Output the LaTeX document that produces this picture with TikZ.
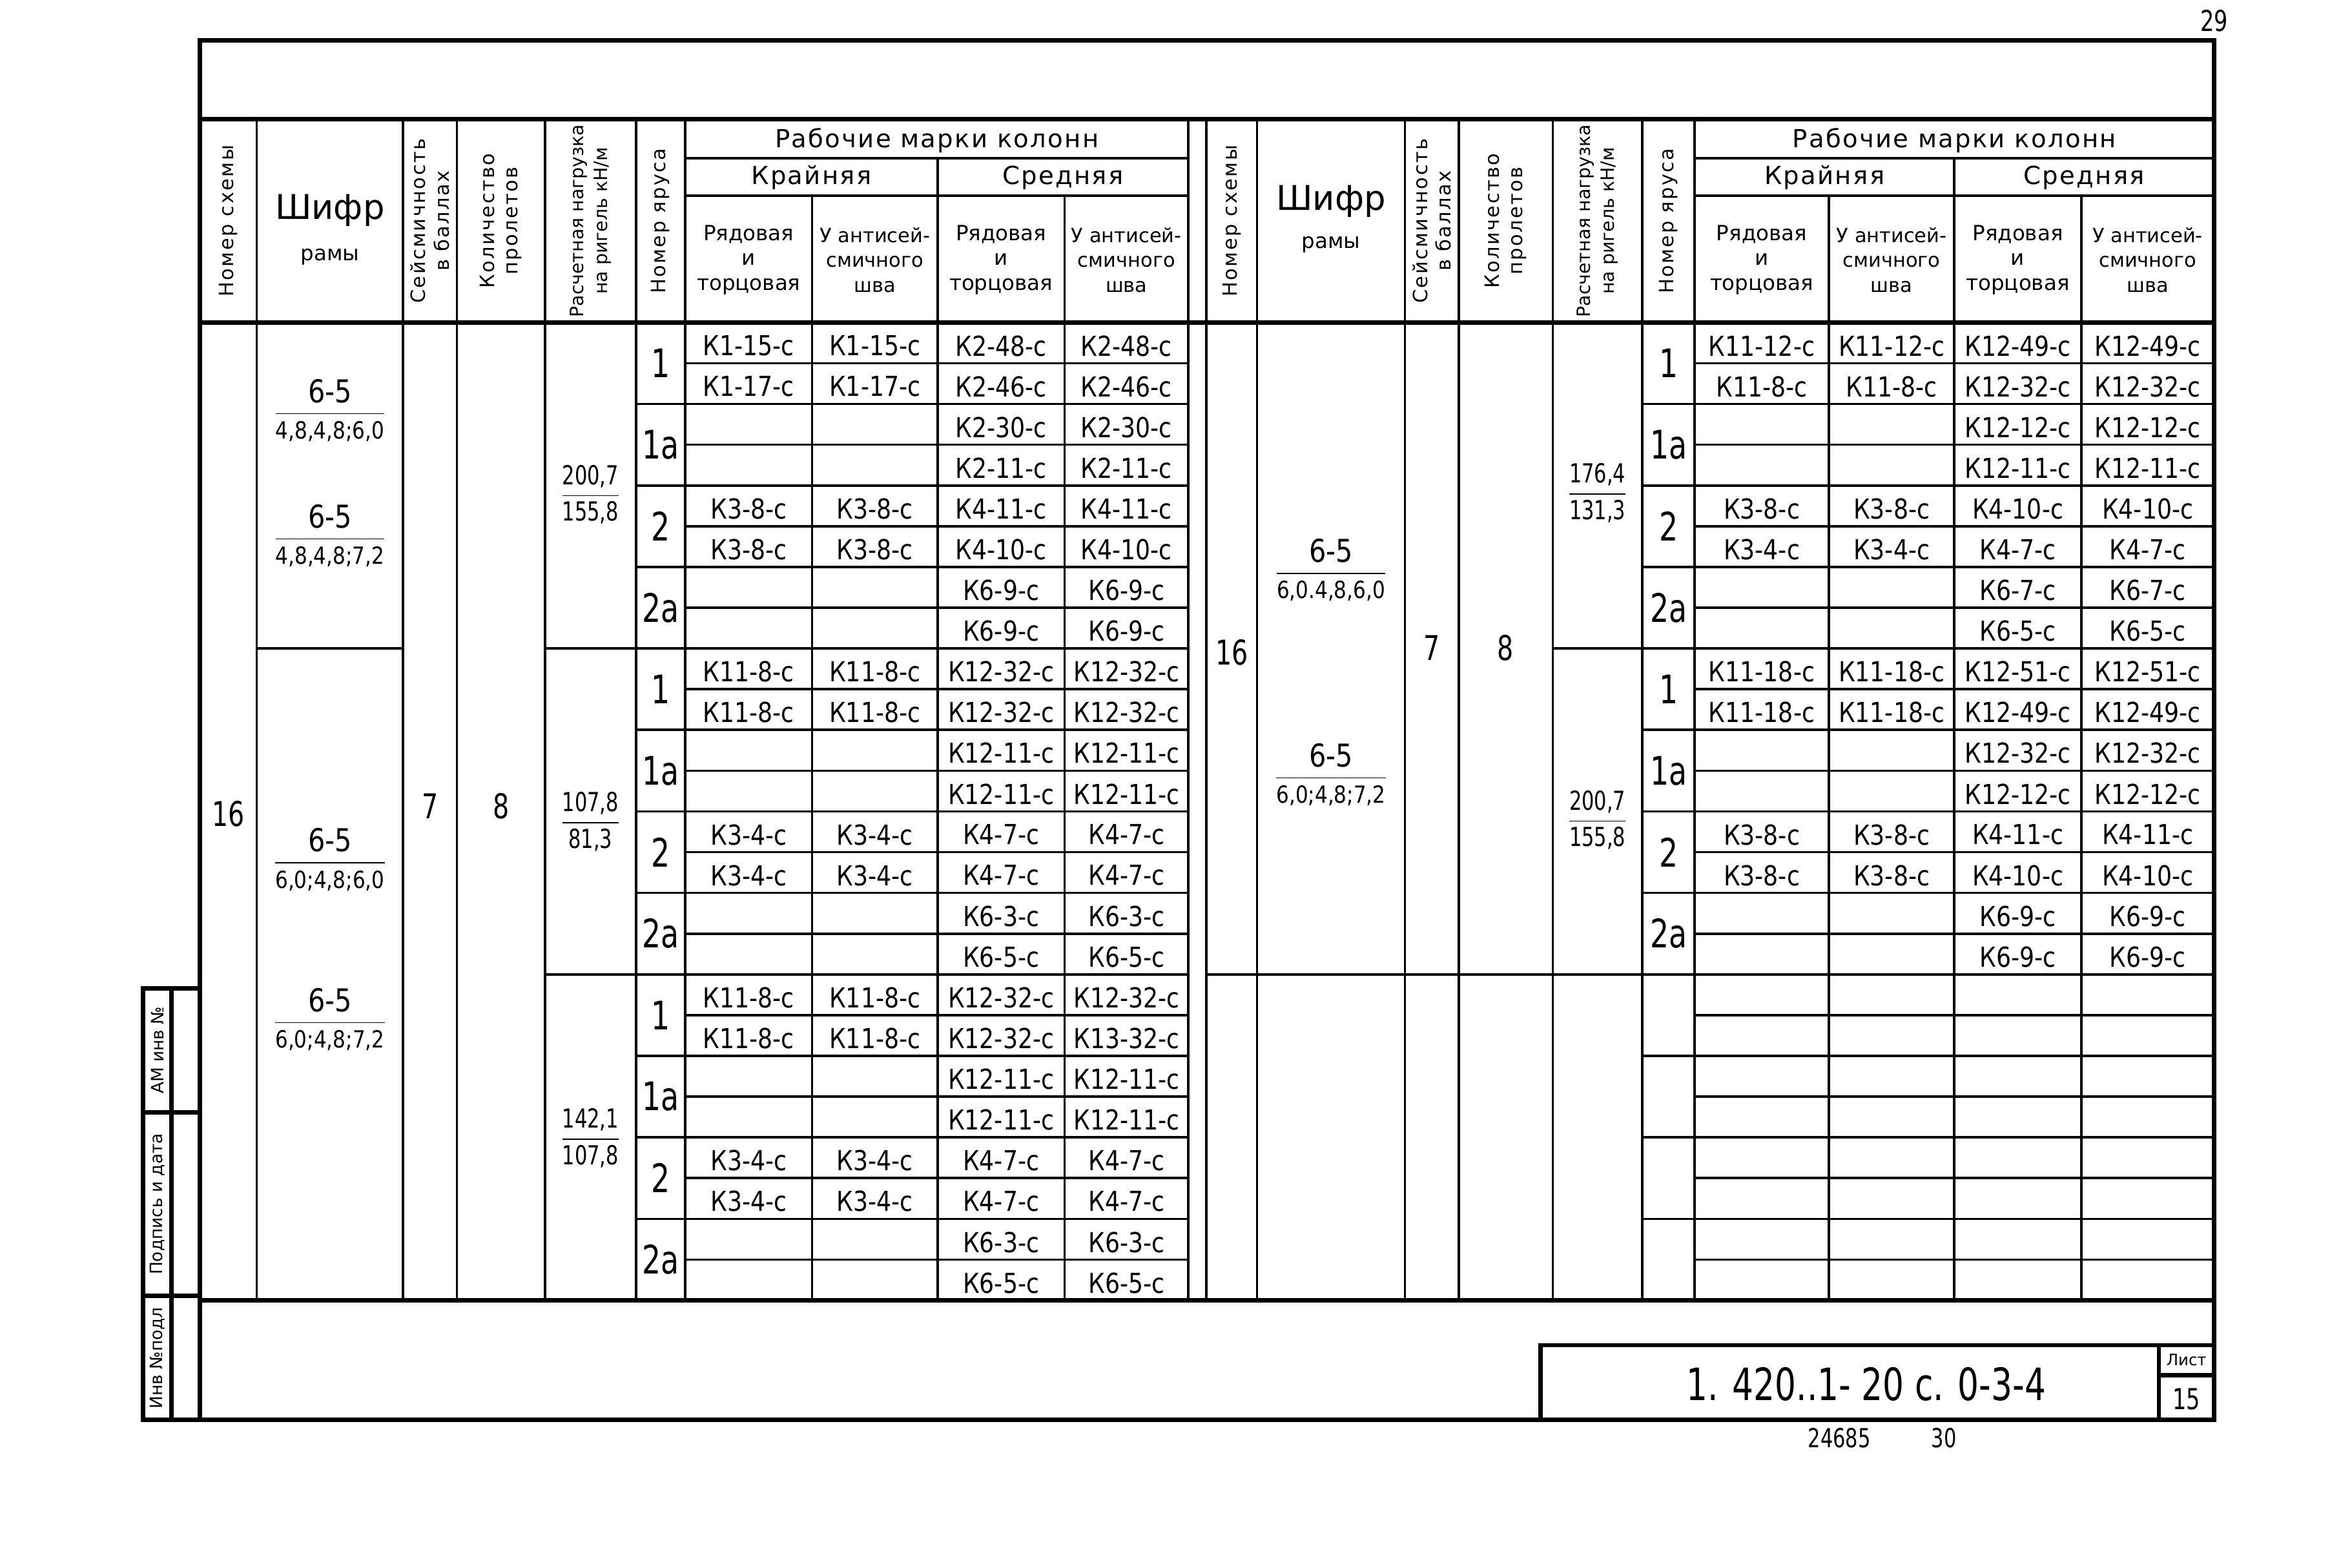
\documentclass[tikz,border=0pt]{standalone}
\usepackage{fontspec}
\setmainfont{DejaVu Sans}
\newfontfamily\uzkij{DejaVu Sans}[FakeStretch=0.75]
\newfontfamily\srednij{DejaVu Sans}[FakeStretch=0.85]
\usetikzlibrary{positioning}

% fraction: numerator over a rule
\newcommand{\drob}[2]{{\renewcommand{\arraystretch}{1.35}\begin{tabular}{@{}c@{}}#1\\\hline #2\end{tabular}}}

\tikzset{
  frame/.style={line width=1.7pt},
  grid/.style={line width=0.9pt},
  cell/.style={font=\srednij\fontsize{10.5}{11}\selectfont, inner sep=0pt},
  yarus/.style={font=\uzkij\fontsize{15}{15}\selectfont, inner sep=0pt},
  big/.style={font=\uzkij\fontsize{13}{13}\selectfont, inner sep=0pt},
  head/.style={font=\fontsize{8}{9.5}\selectfont, align=center, inner sep=0pt},
  vhead/.style={font=\fontsize{7.5}{9}\selectfont\addfontfeature{LetterSpace=8}, align=center, inner sep=0pt, rotate=90},
  shifr/.style={font=\srednij\fontsize{9}{10}\selectfont, inner sep=0pt},
  load/.style={font=\uzkij\fontsize{10}{10}\selectfont, inner sep=0pt}
}

\begin{document}
\begin{tikzpicture}[x=0.02cm, y=-0.02cm]
\useasboundingbox (0,0) rectangle (1568,1050);

% outer frame
\draw[frame] (134,27) rectangle (1483,951);
\draw[frame] (134,80) -- (1483,80) (134,216) -- (1483,216) (134,871) -- (1483,871);
\draw[frame] (96,951) -- (134,951);
\node[font=\uzkij\fontsize{11}{11}\selectfont] (list29) at (1483,14) {29};

% left strip
\draw[frame] (96,662) rectangle (134,951);
\draw[frame] (115,662) -- (115,951) (96,745) -- (134,745) (96,868) -- (134,868);
\node[vhead, font=\fontsize{6.5}{7}\selectfont] (amv) at (105.5,703.5) {АМ инв №};
\node[vhead, font=\fontsize{6.5}{7}\selectfont] (podp) at (105.5,806.5) {Подпись и дата};
\node[vhead, font=\fontsize{6.5}{7}\selectfont] (invp) at (105.5,909.5) {Инв №подл};

% title block
\draw[frame] (1032,901) rectangle (1483,951);
\draw[frame] (1446,901) -- (1446,951) (1446,921) -- (1483,921);
\node[font=\uzkij\fontsize{17}{17}\selectfont] (oboz) at (1250,927) {1. 420..1- 20 с. 0-3-4};
\node[font=\fontsize{6}{6}\selectfont] (listh) at (1464.5,911) {Лист};
\node[font=\uzkij\fontsize{11}{11}\selectfont] (listn) at (1464.5,937) {15};
\node[font=\uzkij\fontsize{10}{10}\selectfont] (inv) at (1232,963) {24685};
\node[font=\uzkij\fontsize{10}{10}\selectfont] (inv2) at (1302,963) {30};

% ---------------- left table ----------------
\foreach \x in {172,270,306,365,426,459,796}
  \draw[grid] (\x,80) -- (\x,871);
\draw[grid] (628,106) -- (628,871);
\foreach \x in {544,713}
  \draw[grid] (\x,131) -- (\x,871);
\draw[grid] (459,106) -- (796,106) (459,131) -- (796,131);
\foreach \k in {1,...,23}
  \draw[grid] (459,{216+27.29*\k}) -- (796,{216+27.29*\k});
\foreach \k in {2,4,...,22}
  \draw[grid] (426,{216+27.29*\k}) -- (459,{216+27.29*\k});
\foreach \k in {8,16}
  \draw[grid] (365,{216+27.29*\k}) -- (426,{216+27.29*\k});
\draw[grid] (172,{216+27.29*8}) -- (270,{216+27.29*8});

% header
\node[vhead] (lnom) at (153,148) {Номер схемы};
\node[font=\fontsize{13}{13}\selectfont] (lshifr) at (221,141) {Шифр};
\node[head] (lramy) at (221,172) {рамы};
\node[vhead] (lseism) at (288,148) {Сейсмичность\\в баллах};
\node[vhead] (lkol) at (335.5,148) {Количество\\пролетов};
\node[vhead, font=\fontsize{7}{9}\selectfont] (lrasch) at (395.5,148) {Расчетная нагрузка\\на ригель кН/м};
\node[vhead] (lyar) at (442.5,148) {Номер яруса};
\node[head, font=\fontsize{9.5}{10}\selectfont\addfontfeature{LetterSpace=6}] (lmark) at (627.5,94) {Рабочие марки колонн};
\node[head, font=\fontsize{9.5}{10}\selectfont\addfontfeature{LetterSpace=6}] (lkr) at (543.5,119) {Крайняя};
\node[head, font=\fontsize{9.5}{10}\selectfont\addfontfeature{LetterSpace=6}] (lsr) at (712,119) {Средняя};
\node[head] (lh1) at (501.5,174) {Рядовая\\и\\торцовая};
\node[head, font=\fontsize{7.5}{9.5}\selectfont] (lh2) at (586,174) {У антисей-\\смичного\\шва};
\node[head] (lh3) at (670.5,174) {Рядовая\\и\\торцовая};
\node[head, font=\fontsize{7.5}{9.5}\selectfont] (lh4) at (754.5,174) {У антисей-\\смичного\\шва};

% merged cells
\node[big] (lsx) at (153,545) {16};
\node[big] (lsei) at (288,540) {7};
\node[big] (lpro) at (335.5,540) {8};
\node[shifr] (lf1) at (221,277) {\drob{\large 6-5}{4,8,4,8;6,0}};
\node[shifr] (lf2) at (221,361) {\drob{\large 6-5}{4,8,4,8;7,2}};
\node[shifr] (lf3) at (221,578) {\drob{\large 6-5}{6,0;4,8;6,0}};
\node[shifr] (lf4) at (221,685) {\drob{\large 6-5}{6,0;4,8;7,2}};
\node[load] (ln1) at (395.5,332) {\drob{200,7}{155,8}};
\node[load] (ln2) at (395.5,551) {\drob{107,8}{81,3}};
\node[load] (ln3) at (395.5,763) {\drob{142,1}{107,8}};

% tiers
\foreach \b in {0,1,2}
  \foreach \j/\t in {0/1,1/1а,2/2,3/2а}
    \node[yarus] (ly\b\j) at (442.5,{216+27.29*(8*\b+2*\j+1)}) {\t};

% column marks
\foreach \r/\a in {0/К1-15-с,1/К1-17-с,4/К3-8-с,5/К3-8-с,8/К11-8-с,9/К11-8-с,
                   12/К3-4-с,13/К3-4-с,16/К11-8-с,17/К11-8-с,20/К3-4-с,21/К3-4-с}{
  \node[cell] (lka\r) at (501.5,{216+27.29*(\r+0.5)+2}) {\a};
  \node[cell] (lkb\r) at (586,{216+27.29*(\r+0.5)+2}) {\a};
}
\foreach \c/\d [count=\r from 0] in {К2-48-с/К2-48-с,К2-46-с/К2-46-с,К2-30-с/К2-30-с,К2-11-с/К2-11-с,
    К4-11-с/К4-11-с,К4-10-с/К4-10-с,К6-9-с/К6-9-с,К6-9-с/К6-9-с,
    К12-32-с/К12-32-с,К12-32-с/К12-32-с,К12-11-с/К12-11-с,К12-11-с/К12-11-с,
    К4-7-с/К4-7-с,К4-7-с/К4-7-с,К6-3-с/К6-3-с,К6-5-с/К6-5-с,
    К12-32-с/К12-32-с,К12-32-с/К13-32-с,К12-11-с/К12-11-с,К12-11-с/К12-11-с,
    К4-7-с/К4-7-с,К4-7-с/К4-7-с,К6-3-с/К6-3-с,К6-5-с/К6-5-с}{
  \node[cell] (lsa\r) at (670.5,{216+27.29*(\r+0.5)+2}) {\c};
  \node[cell] (lsb\r) at (754.5,{216+27.29*(\r+0.5)+2}) {\d};
}

% ---------------- right table ----------------
\foreach \x in {808,842,941,977,1040,1100,1135}
  \draw[grid] (\x,80) -- (\x,871);
\draw[grid] (1309,106) -- (1309,871);
\foreach \x in {1225,1394}
  \draw[grid] (\x,131) -- (\x,871);
\draw[grid] (1135,106) -- (1483,106) (1135,131) -- (1483,131);
\foreach \k in {1,...,23}
  \draw[grid] (1135,{216+27.29*\k}) -- (1483,{216+27.29*\k});
\foreach \k in {2,4,...,22}
  \draw[grid] (1100,{216+27.29*\k}) -- (1135,{216+27.29*\k});
\draw[grid] (1040,{216+27.29*8}) -- (1100,{216+27.29*8});
\draw[grid] (808,{216+27.29*16}) -- (1100,{216+27.29*16});

% header
\node[vhead] (rnom) at (825,148) {Номер схемы};
\node[font=\fontsize{13}{13}\selectfont] (rshifr) at (891.5,135) {Шифр};
\node[head] (rramy) at (891.5,164) {рамы};
\node[vhead] (rseism) at (959,148) {Сейсмичность\\в баллах};
\node[vhead] (rkol) at (1008.5,148) {Количество\\пролетов};
\node[vhead, font=\fontsize{7}{9}\selectfont] (rrasch) at (1070,148) {Расчетная нагрузка\\на ригель кН/м};
\node[vhead] (ryar) at (1117.5,148) {Номер яруса};
\node[head, font=\fontsize{9.5}{10}\selectfont\addfontfeature{LetterSpace=6}] (rmark) at (1309,94) {Рабочие марки колонн};
\node[head, font=\fontsize{9.5}{10}\selectfont\addfontfeature{LetterSpace=6}] (rkr) at (1222,119) {Крайняя};
\node[head, font=\fontsize{9.5}{10}\selectfont\addfontfeature{LetterSpace=6}] (rsr) at (1396,119) {Средняя};
\node[head] (rh1) at (1180,174) {Рядовая\\и\\торцовая};
\node[head, font=\fontsize{7.5}{9.5}\selectfont] (rh2) at (1267,174) {У антисей-\\смичного\\шва};
\node[head] (rh3) at (1351.5,174) {Рядовая\\и\\торцовая};
\node[head, font=\fontsize{7.5}{9.5}\selectfont] (rh4) at (1438.5,174) {У антисей-\\смичного\\шва};

% merged cells
\node[big] (rsx) at (825,437) {16};
\node[big] (rsei) at (959,434) {7};
\node[big] (rpro) at (1008.5,434) {8};
\node[shifr] (rf1) at (891.5,384) {\drob{\large 6-5}{6,0.4,8,6,0}};
\node[shifr] (rf2) at (891.5,521) {\drob{\large 6-5}{6,0;4,8;7,2}};
\node[load] (rn1) at (1070,331) {\drob{176,4}{131,3}};
\node[load] (rn2) at (1070,550) {\drob{200,7}{155,8}};

% tiers
\foreach \b in {0,1}
  \foreach \j/\t in {0/1,1/1а,2/2,3/2а}
    \node[yarus] (ry\b\j) at (1117.5,{216+27.29*(8*\b+2*\j+1)}) {\t};

% column marks
\foreach \r/\a in {0/К11-12-с,1/К11-8-с,4/К3-8-с,5/К3-4-с,8/К11-18-с,9/К11-18-с,12/К3-8-с,13/К3-8-с}{
  \node[cell] (rka\r) at (1180,{216+27.29*(\r+0.5)+2}) {\a};
  \node[cell] (rkb\r) at (1267,{216+27.29*(\r+0.5)+2}) {\a};
}
\foreach \c [count=\r from 0] in {К12-49-с,К12-32-с,К12-12-с,К12-11-с,К4-10-с,К4-7-с,К6-7-с,К6-5-с,
    К12-51-с,К12-49-с,К12-32-с,К12-12-с,К4-11-с,К4-10-с,К6-9-с,К6-9-с}{
  \node[cell] (rsa\r) at (1351.5,{216+27.29*(\r+0.5)+2}) {\c};
  \node[cell] (rsb\r) at (1438.5,{216+27.29*(\r+0.5)+2}) {\c};
}
\end{tikzpicture}
\end{document}
